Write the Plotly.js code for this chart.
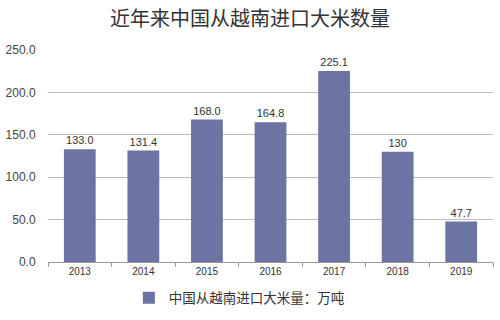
<!DOCTYPE html>
<html><head><meta charset="utf-8">
<script src="https://cdn.plot.ly/plotly-3.0.1.min.js"></script>
<style>body{margin:0;background:#fff}#c{width:500px;height:320px}</style>
</head><body><div id="c"></div>
<script>
const years = ['2013','2014','2015','2016','2017','2018','2019'];
const values = [133.0, 131.4, 168.0, 164.8, 225.1, 130, 47.7];
const labels = ['133.0','131.4','168.0','164.8','225.1','130','47.7'];
const seriesName = '中国从越南进口大米量：万吨';
const titleText = '近年来中国从越南进口大米数量';

Plotly.newPlot('c', [{
  type: 'bar', x: years, y: values, text: labels, name: seriesName,
  textposition: 'outside', cliponaxis: false,
  textfont: {family: 'Liberation Sans, Arial, sans-serif', size: 11, color: '#333'},
  marker: {color: '#6b74a2'}, width: 0.5, showlegend: true
}], {
  width: 500, height: 320,
  margin: {l: 48, r: 7, t: 50, b: 55},
  paper_bgcolor: '#fff', plot_bgcolor: '#fff',
  title: {text: titleText, x: 0.5, xanchor: 'center', y: 0.94, yanchor: 'middle',
    font: {family: 'Noto Sans CJK SC', size: 20, color: '#333'}},
  xaxis: {type: 'category', showgrid: false, showline: true, linecolor: '#999',
    ticks: 'outside', tickson: 'boundaries', ticklen: 4, tickcolor: '#999',
    tickfont: {family: 'Liberation Sans, Arial, sans-serif', size: 10, color: '#333'}},
  yaxis: {range: [0, 250], tickvals: [0,50,100,150,200,250], tickformat: '.1f',
    showgrid: true, gridcolor: '#bbb', gridwidth: 1, zeroline: false,
    ticks: 'outside', ticklen: 9, tickcolor: 'rgba(0,0,0,0)',
    tickfont: {family: 'Liberation Sans, Arial, sans-serif', size: 12, color: '#444'}},
  showlegend: true,
  legend: {orientation: 'h', x: 0.43, xanchor: 'center', y: -0.17, yanchor: 'middle',
    itemwidth: 30,
    font: {family: 'Noto Sans CJK SC', size: 13.5, color: '#333'}}
}, {staticPlot: true});
</script></body></html>
